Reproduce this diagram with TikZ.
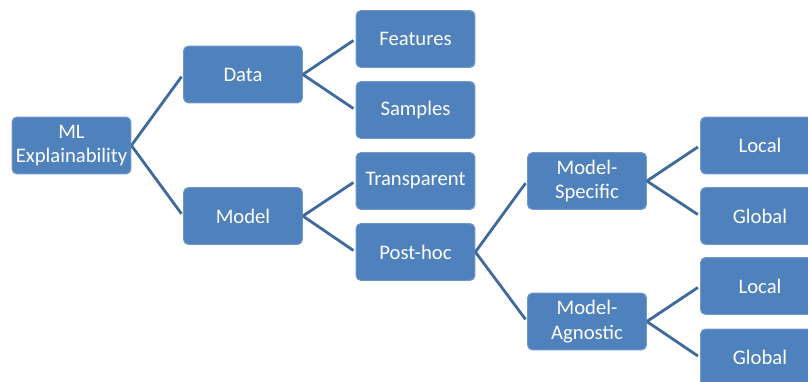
\documentclass[tikz,border=0pt]{standalone}
\usepackage{fontspec}
\setmainfont{Carlito}
\definecolor{boxblue}{HTML}{4F81BD}
\definecolor{boxrim}{HTML}{6F97C8}
\definecolor{linkblue}{HTML}{3F6A9E}
\begin{document}
\begin{tikzpicture}[x=0.75pt,y=-0.75pt]
    \tikzset{
        box/.style={draw=boxrim, line width=0.8pt, fill=boxblue, rounded corners=3.5pt,
            minimum width=89pt, minimum height=42.5pt, text=white, font=\fontsize{15.5}{18.5}\selectfont, align=center, inner sep=2pt},
        link/.style={draw=linkblue, line width=2.1pt, shorten >=2pt}
    }
    \clip (0,0) rectangle (808,382);
    \fill[white] (0,0) rectangle (808,382);

    \draw node[box] (ml) at (71.5,145.5) {ML\\Explainability};
    \draw node[box] (data) at (243,74.5) {Data};
    \draw node[box] (model) at (243,216) {Model};
    \draw node[box] (feat) at (415.5,39) {Features};
    \draw node[box] (samp) at (415.5,110) {Samples};
    \draw node[box] (trans) at (415.5,181) {Transparent};
    \draw node[box] (post) at (415.5,252) {Post-hoc};
    \draw node[box] (spec) at (587,181) {Model-\\Specific};
    \draw node[box] (agn) at (587,321.5) {Model-\\Agnostic};
    \draw node[box] (sloc) at (760,145.5) {Local};
    \draw node[box] (sglob) at (760,216) {Global};
    \draw node[box] (aloc) at (760,286) {Local};
    \draw node[box] (aglob) at (760,357.5) {Global};

    \foreach \x/\y in {%
        ml/data,ml/model,data/feat,data/samp,model/trans,model/post,%
        post/spec,post/agn,spec/sloc,spec/sglob,agn/aloc,agn/aglob%
    }{
        \draw[link] (\x.east) -- (\y.west);
    }
\end{tikzpicture}
\end{document}
